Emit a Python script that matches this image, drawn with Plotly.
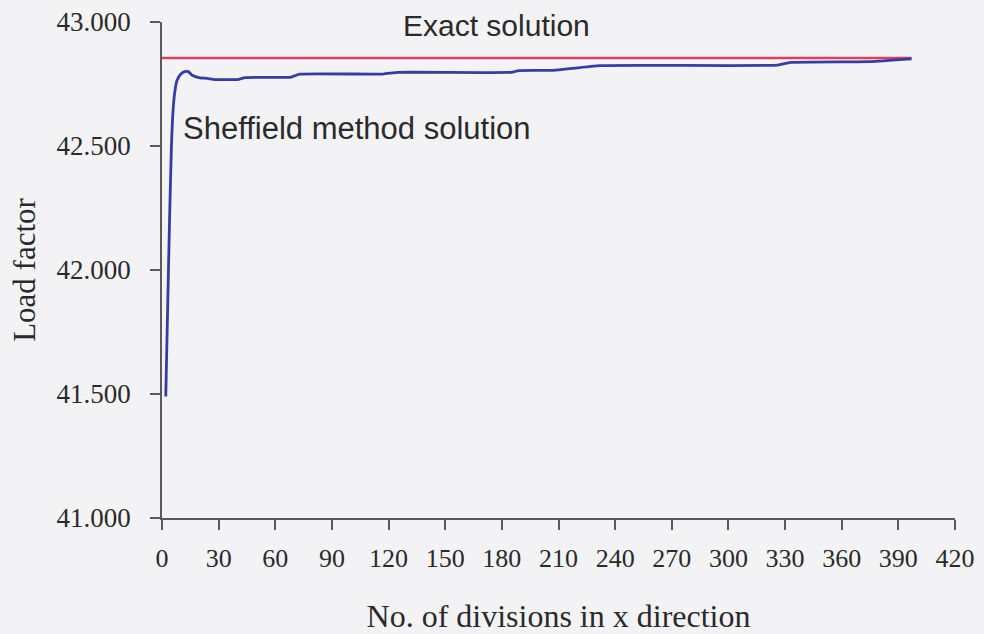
import plotly.graph_objects as go

# Data
exact_x = [0, 397]
exact_y = [42.855, 42.855]

sheff_x = [2, 3, 4, 5, 6, 7, 8, 10, 12, 14, 16, 20, 24, 28, 40, 44, 60, 68, 73, 117, 125, 185, 189, 207, 232, 326, 333, 375, 397]
sheff_y = [41.49, 41.85, 42.20, 42.50, 42.66, 42.73, 42.765, 42.79, 42.80, 42.80, 42.785, 42.775, 42.773, 42.768,
           42.768, 42.776, 42.777, 42.777, 42.79, 42.79, 42.797, 42.797, 42.804, 42.805, 42.824, 42.826, 42.837,
           42.840, 42.851]

x_ticks = list(range(0, 421, 30))
y_ticks = [41.0, 41.5, 42.0, 42.5, 43.0]
y_tick_labels = ["41.000", "41.500", "42.000", "42.500", "43.000"]

BG = "#f3f3f6"
TXT = "#2a2a2a"
axis_color = "#5a5a5a"

fig = go.Figure()
fig.add_trace(go.Scatter(x=exact_x, y=exact_y, mode="lines",
                         line=dict(color="#de3f5c", width=2.5), showlegend=False))
fig.add_trace(go.Scatter(x=sheff_x, y=sheff_y, mode="lines",
                         line=dict(color="#363ca4", width=2.8, shape="spline", smoothing=0.4), showlegend=False))

fig.update_layout(
    width=984, height=634,
    margin=dict(l=162, r=29, t=22, b=116),
    paper_bgcolor=BG, plot_bgcolor=BG,
    font=dict(family="Liberation Serif", color=TXT, size=27),
    xaxis=dict(range=[0, 420], tickvals=x_ticks, showgrid=False, zeroline=False, automargin=False,
               showline=True, linecolor=axis_color, linewidth=1.5,
               ticks="outside", ticklen=10, tickcolor=axis_color, tickwidth=1.5,
               ticklabelstandoff=6,
               tickfont=dict(family="Liberation Serif", size=26, color=TXT),
               title=dict(text="No. of divisions in x direction", standoff=36,
                          font=dict(family="Liberation Serif", size=32, color=TXT))),
    yaxis=dict(range=[41.0, 43.0], tickvals=y_ticks, ticktext=y_tick_labels, showgrid=False, zeroline=False,
               automargin=False,
               showline=True, linecolor=axis_color, linewidth=1.5,
               ticks="outside", ticklen=10, tickcolor=axis_color, tickwidth=1.5,
               ticklabelstandoff=14,
               tickfont=dict(family="Liberation Serif", size=27, color=TXT),
               title=dict(text="Load factor", standoff=12,
                          font=dict(family="Liberation Serif", size=31, color=TXT))),
    annotations=[
        dict(xref="x", yref="y", x=(496 - 162) / 793 * 420, y=43 - (25 - 22) / 248,
             text="Exact solution", showarrow=False,
             font=dict(family="Liberation Sans", size=30, color=TXT)),
        dict(xref="x", yref="y", x=(181 - 162) / 793 * 420, y=43 - (128 - 22) / 248,
             text="Sheffield method solution", showarrow=False, xanchor="left",
             font=dict(family="Liberation Sans", size=31, color=TXT)),
    ],
)

fig.write_html("out.html", config={"displayModeBar": False},
               post_script="document.body.style.margin='0';document.body.style.background='%s';" % BG)
